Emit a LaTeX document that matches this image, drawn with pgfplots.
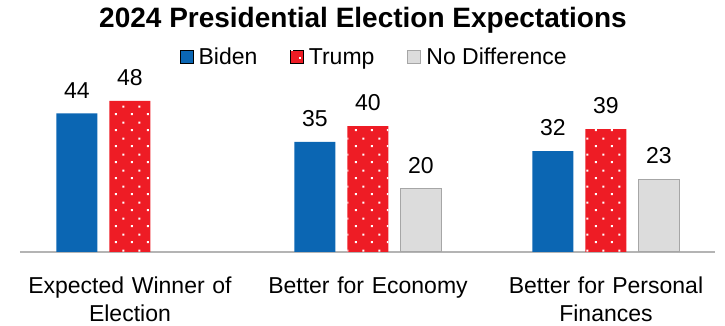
\documentclass[border=0pt]{standalone}
\usepackage{pgfplots}
\pgfplotsset{compat=1.18}
\usepackage{fontspec}
\setmainfont{Liberation Sans}
\usetikzlibrary{patterns.meta}
\definecolor{bidenblue}{HTML}{0B66B3}
\definecolor{trumpred}{HTML}{EE1C25}
\definecolor{ndfill}{HTML}{DCDCDC}
\definecolor{nddraw}{HTML}{A6A6A6}
\definecolor{axisgray}{HTML}{B4B4B4}
\tikzdeclarepattern{
  name=sdots,
  type=uncolored,
  bounding box={(0pt,0pt) and (16pt,16pt)},
  tile size={(16pt,16pt)},
  code={
    \fill (3pt,3pt) rectangle (5.2pt,5.2pt);
    \fill (11pt,11pt) rectangle (13.2pt,13.2pt);
  }
}
\begin{document}
\begin{tikzpicture}
\path[use as bounding box] (0,0) rectangle (725pt,326pt);
\begin{axis}[
  at={(20pt,74pt)}, anchor=south west,
  scale only axis, width=695pt, height=157.5pt,
  xmin=-0.462, xmax=2.458, ymin=0, ymax=50,
  axis x line*=bottom, axis y line=none,
  x axis line style={draw=axisgray, line width=1.5pt, -},
  xtick={0,1,2},
  xticklabels={{Expected Winner of\\Election},{Better for Economy},{Better for Personal\\Finances}},
  major tick length=0pt,
  xticklabel style={text width=235pt, align=center, inner sep=0pt, yshift=-25pt, font=\fontsize{23}{27.5}\selectfont},
  ytick=\empty,
  ybar, bar width=41pt,
  nodes near coords,
  every node near coord/.append style={font=\fontsize{23}{27}\selectfont, anchor=south, inner sep=0pt, yshift=15pt, text=black},
  /pgf/number format/assume math mode=true,
  legend columns=-1,
  legend style={draw=none, fill=none, at={(0.51,1)}, anchor=center, yshift=37.5pt,
    font=\fontsize{23}{27}\selectfont, nodes={inner sep=2pt},
    /tikz/every odd column/.append style={column sep=3pt},
    /tikz/every even column/.append style={column sep=31pt}},
  legend image code/.code={\draw[#1] (0pt,-6.5pt) rectangle (13pt,6.5pt);},
]
\addplot[fill=bidenblue, draw=none, bar shift=-53pt] coordinates {(0,44) (1,35) (2,32)};
\addlegendentry{Biden}
\addplot[fill=trumpred, draw=none, bar shift=0pt, postaction={pattern=sdots, pattern color=white}] coordinates {(0,48) (1,40) (2,39)};
\addlegendentry{Trump}
\addplot[fill=ndfill, draw=nddraw, line width=1pt, bar shift=53pt] coordinates {(1,20) (2,23)};
\addlegendentry{No Difference}
\end{axis}
\node[font=\bfseries\fontsize{28}{32}\selectfont] at (363pt,306pt) {2024 Presidential Election Expectations};
\end{tikzpicture}
\end{document}
